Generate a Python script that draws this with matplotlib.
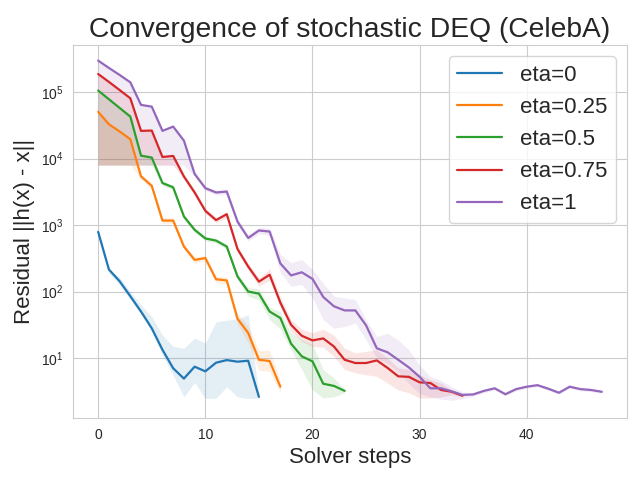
import matplotlib
matplotlib.use("Agg")
import matplotlib.pyplot as plt
import seaborn as sns
import numpy as np

sns.set_style("whitegrid")
plt.rcParams['font.family'] = ['Liberation Sans', 'DejaVu Sans']

labels = ["eta=0", "eta=0.25", "eta=0.5", "eta=0.75", "eta=1"]
colors = ["#1f77b4", "#ff7f0e", "#2ca02c", "#d62728", "#9467bd"]

# eta = 0
blue_mean = [790, 215, 143, 85, 50, 28, 13.3, 7.0, 4.9, 7.4, 6.3, 8.5, 9.3, 8.8, 9.1, 2.6]
blue_lo = [790, 190, 126, 76, 45, 25, 11, 5.5, 2.6, 4.3, 2.45, 2.5, 3.7, 2.6, 2.45, 2.5]
blue_hi = [790, 215, 163, 100, 63, 42, 22, 15, 14, 20, 16.7, 35, 37, 38.6, 45, 2.8]

# eta = 0.25
orange_mean = [50600, 33000, 25700, 19600, 5400, 3900, 1170, 1170, 476, 300, 319, 153, 147, 39, 23.8, 9.4, 9.0, 3.7]
orange_lo = [8000, 8000, 8000, 8000, 4900, 3500, 1050, 1050, 430, 270, 290, 135, 130, 32, 17, 6.5, 6.3, 3.0]
orange_hi = [50600, 33000, 25700, 19600, 5900, 4300, 1300, 1300, 520, 330, 350, 170, 165, 46, 30, 13, 13, 4.5]

# eta = 0.5
green_mean = [106000, 78500, 58000, 43000, 11100, 10400, 4300, 3700, 1350, 850, 630, 585, 475, 169, 100, 93,
              50, 40, 16.4, 10.6, 8.9, 4.1, 3.8, 3.2]
green_lo = [8000, 8000, 8000, 8000, 8000, 8000, 3900, 3400, 1200, 780, 580, 540, 430, 150, 85, 75,
            38, 27, 13.3, 6.7, 3.3, 2.5, 2.6, 3.0]
green_hi = [106000, 78500, 58000, 43000, 11100, 10400, 4600, 4000, 1450, 920, 680, 630, 510, 185, 115, 110,
            58, 50, 23.8, 18.8, 15.9, 6.7, 5.0, 3.4]

# eta = 0.75
red_mean = [188000, 143000, 108000, 81000, 26200, 26500, 10600, 11000, 5400, 3100, 1640, 1190, 1460, 437, 238, 141,
            179, 68, 31.6, 21.6, 18.4, 19.7, 14.9, 9.4, 8.4, 8.4, 9.2, 7.1, 5.3, 5.2, 4.3, 4.2, 3.3, 3.1, 2.7]
red_lo = [8000, 8000, 8000, 8000, 8000, 8000, 8000, 8000, 4900, 2800, 1500, 1080, 1300, 390, 210, 120,
          150, 58, 25, 17.8, 14.9, 14.6, 10.6, 6.7, 6.0, 5.6, 5.3, 4.2, 3.3, 3.0, 2.5, 2.5, 2.6, 2.8, 2.6]
red_hi = [188000, 143000, 108000, 81000, 26200, 26500, 10600, 11000, 5900, 3400, 1800, 1300, 1600, 480, 265, 160,
          220, 82, 38, 27, 24, 27, 22, 14, 11.9, 12.6, 13.3, 10, 7.1, 6.7, 5.6, 4.7, 4.2, 3.3, 2.8]

# eta = 1
purple_mean = [299000, 232000, 182000, 141000, 64500, 60700, 26200, 30400, 18700, 5900, 3600, 3100, 3200, 1130,
               640, 830, 800, 265, 175, 195, 155, 83, 60, 52, 52, 31, 14, 12.2, 9.4, 7.2, 5.2, 3.5, 3.5, 3.15,
               2.78, 2.83, 3.2, 3.5, 2.85, 3.4, 3.7, 3.9, 3.45, 3.0, 3.7, 3.4, 3.3, 3.1]
purple_lo = [8000, 8000, 8000, 8000, 8000, 8000, 8000, 8000, 8000, 5400, 3300, 2850, 2900, 1030,
             580, 740, 700, 192, 120, 128, 80, 37.7, 28, 29.8, 33.6, 18.7, 9.9, 8.3, 6.2, 4.1, 2.9, 2.6, 2.4, 2.3,
             2.45, 2.65, 3.0, 3.3, 2.7, 3.2, 3.5, 3.7, 3.25, 2.85, 3.5, 3.2, 3.1, 2.95]
purple_hi = [299000, 232000, 182000, 141000, 64500, 60700, 26200, 30400, 18700, 6400, 3900, 3350, 3500, 1250,
             720, 930, 900, 363, 272, 305, 215, 135, 85, 80, 76, 37.7, 21, 23.6, 18.7, 13.2, 7.8, 5.2, 4.6, 3.7,
             3.1, 3.0, 3.4, 3.7, 3.0, 3.6, 3.9, 4.1, 3.65, 3.15, 3.9, 3.6, 3.5, 3.25]

series = [
    (blue_mean, blue_lo, blue_hi),
    (orange_mean, orange_lo, orange_hi),
    (green_mean, green_lo, green_hi),
    (red_mean, red_lo, red_hi),
    (purple_mean, purple_lo, purple_hi),
]

fig, ax = plt.subplots(figsize=(6.4, 4.8), dpi=100)
for (m, lo, hi), lab, c in zip(series, labels, colors):
    steps = np.arange(len(m))
    ax.plot(steps, m, color=c, lw=1.6, label=lab)
    ax.fill_between(steps, lo, hi, color=c, alpha=0.12, linewidth=0)

ax.set_yscale("log")
ax.set_xlim(-2.35, 49.35)
ax.set_ylim(1.25, 5.14e5)
ax.set_title("Convergence of stochastic DEQ (CelebA)", fontsize=20.3)
ax.set_xlabel("Solver steps", fontsize=16)
ax.set_ylabel("Residual ||h(x) - x||", fontsize=16)
ax.legend(loc="upper right", fontsize=16)
fig.subplots_adjust(left=73/640, right=627/640, top=1-45/480, bottom=1-418/480)
fig.savefig("out.png", dpi=100)
